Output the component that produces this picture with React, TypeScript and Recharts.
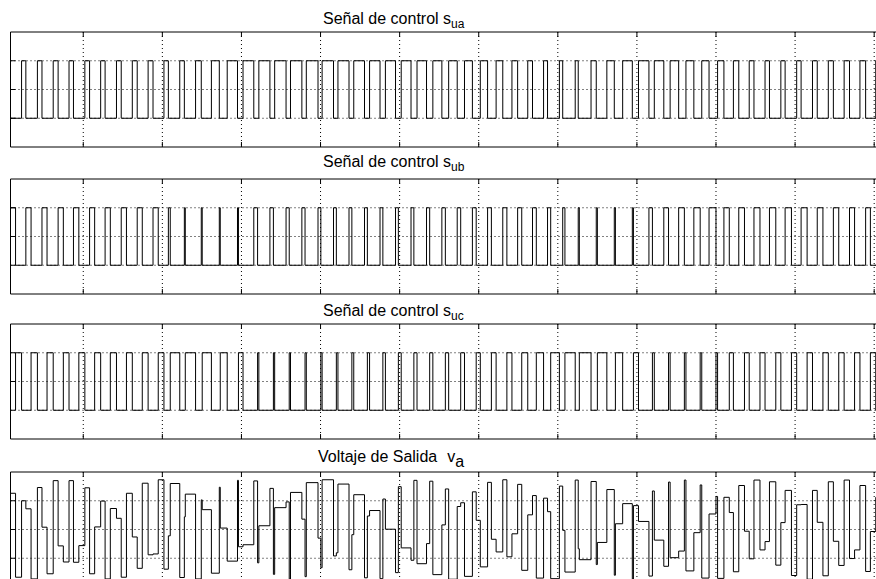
import React from 'react';
import { LineChart, Line, XAxis, YAxis, CartesianGrid } from 'recharts';

// one carrier period is a fifth of a grid division
const PERIOD = 0.2;
const FIRST_START = 0.02;
const X_DOMAIN: [number, number] = [0.08, 11.2];
const X_TICKS = [1, 2, 3, 4, 5, 6, 7, 8, 9, 10, 11];

const SW_DOMAIN: [number, number] = [-0.5, 1.5];
const SW_TICKS = [0, 0.5, 1];
const V_DOMAIN: [number, number] = [-2, 2];
const V_TICKS = [-1, 0, 1];

// share of each carrier period spent on input a, b, c (read from the pulse widths)
const dutyA = [
  0.29,
  0.27, 0.29, 0.31, 0.28, 0.3, 0.28, 0.3, 0.31, 0.31, 0.28,
  0.29, 0.36, 0.5, 0.65,
  0.68, 0.7, 0.72, 0.72, 0.74,
  0.72, 0.7, 0.68, 0.66, 0.64, 0.62,
  0.6, 0.57, 0.54, 0.5, 0.46, 0.42,
  0.36, 0.3, 0.25, 0.21,
  0.19, 0.33, 0.47, 0.61,
  0.66, 0.6, 0.54, 0.5, 0.46,
  0.4, 0.34, 0.3, 0.28, 0.27, 0.28, 0.3, 0.32, 0.34, 0.36, 0.38,
];
const dutyB = [
  0.33,
  0.33, 0.32, 0.33, 0.34, 0.32, 0.33, 0.33, 0.32, 0.33, 0.12,
  0.06, 0.06, 0.06, 0.06,
  0.24, 0.22, 0.2, 0.2, 0.18,
  0.18, 0.18, 0.18, 0.18, 0.18, 0.18,
  0.2, 0.22, 0.22, 0.24, 0.24, 0.26,
  0.26, 0.24, 0.2, 0.14,
  0.07, 0.07, 0.07, 0.07,
  0.22, 0.3, 0.36, 0.4, 0.44,
  0.34, 0.36, 0.38, 0.4, 0.4, 0.38, 0.36, 0.34, 0.32, 0.3, 0.28,
];
const dutyC = [
  0.38,
  0.4, 0.39, 0.36, 0.38, 0.38, 0.39, 0.37, 0.37, 0.36, 0.6,
  0.65, 0.58, 0.44, 0.29,
  0.08, 0.08, 0.08, 0.08, 0.08,
  0.1, 0.12, 0.14, 0.16, 0.18, 0.2,
  0.2, 0.21, 0.24, 0.26, 0.3, 0.32,
  0.38, 0.46, 0.55, 0.65,
  0.74, 0.6, 0.46, 0.32,
  0.12, 0.1, 0.1, 0.1, 0.1,
  0.26, 0.3, 0.32, 0.32, 0.33, 0.34, 0.34, 0.34, 0.34, 0.34, 0.34,
];

// input phase voltages seen on the output during each period
const vinA = [
  0.4, 1.0, 1.46, 1.7, 1.7, 1.45, 0.99, 0.39, -0.26, -0.88,
  -1.38, -1.67, -1.72, -1.52, -1.1, -0.53, 0.13, 0.76, 1.29, 1.63,
  1.73, 1.58, 1.21, 0.66, 0.01, -0.64, -1.19, -1.57, -1.73, -1.63,
  -1.3, -0.78, -0.15, 0.51, 1.09, 1.51, 1.72, 1.67, 1.39, 0.9,
  0.28, -0.37, -0.98, -1.44, -1.69, -1.7, -1.47, -1.02, -0.42, 0.24,
  0.86, 1.36, 1.66, 1.72, 1.53, 1.12,
];
const vinB = [
  1.26, 0.72, 0.08, -0.57, -1.14, -1.54, -1.72, -1.66, -1.35, -0.85,
  -0.22, 0.44, 1.03, 1.47, 1.71, 1.69, 1.43, 0.96, 0.36, -0.3,
  -0.92, -1.4, -1.68, -1.71, -1.5, -1.07, -0.49, 0.16, 0.8, 1.31,
  1.64, 1.73, 1.57, 1.18, 0.62, -0.03, -0.67, -1.22, -1.59, -1.73,
  -1.62, -1.28, -0.75, -0.11, 0.54, 1.12, 1.53, 1.72, 1.66, 1.36,
  0.87, 0.25, -0.41, -1.01, -1.46, -1.7,
];
const vinC = [
  -1.66, -1.72, -1.54, -1.13, -0.56, 0.09, 0.73, 1.26, 1.61, 1.73,
  1.6, 1.23, 0.69, 0.05, -0.6, -1.16, -1.56, -1.73, -1.64, -1.33,
  -0.81, -0.18, 0.47, 1.06, 1.49, 1.71, 1.68, 1.41, 0.93, 0.32,
  -0.34, -0.95, -1.42, -1.69, -1.71, -1.48, -1.05, -0.45, 0.2, 0.83,
  1.34, 1.65, 1.72, 1.55, 1.15, 0.59, -0.06, -0.71, -1.24, -1.6,
  -1.73, -1.61, -1.25, -0.71, -0.07, 0.58,
];

type Pt = { t: number; v: number };

// switching instants of one carrier period: a -> b -> c
const edgesOf = (i: number) => {
  const t0 = FIRST_START + i * PERIOD;
  const e1 = t0 + dutyA[i] * PERIOD;
  const e2 = e1 + dutyB[i] * PERIOD;
  const e3 = e2 + dutyC[i] * PERIOD;
  return [t0, e1, e2, e3];
};

const switchSignal = (phase: number): Pt[] => {
  const pts: Pt[] = [];
  dutyA.forEach((_, i) => {
    const e = edgesOf(i);
    const on = e[phase];
    const off = e[phase + 1];
    pts.push({ t: on, v: 0 }, { t: on, v: 1 }, { t: off, v: 1 }, { t: off, v: 0 });
  });
  return pts;
};

const outputVoltage = (): Pt[] => {
  const pts: Pt[] = [];
  dutyA.forEach((_, i) => {
    const [t0, e1, e2, e3] = edgesOf(i);
    pts.push(
      { t: t0, v: vinA[i] }, { t: e1, v: vinA[i] },
      { t: e1, v: vinB[i] }, { t: e2, v: vinB[i] },
      { t: e2, v: vinC[i] }, { t: e3, v: vinC[i] },
    );
  });
  return pts;
};

const FONT = '"Liberation Sans", Arial, Helvetica, sans-serif';
const PLOT_H = 113;
const PAD = 10;
const noLabel = () => '';

type PanelProps = {
  top: number;
  data: Pt[];
  yDomain: [number, number];
  yTicks: number[];
};

// axes are 1px thick so that recharts still draws them (box + inward ticks), labels left empty
const Panel = ({ top, data, yDomain, yTicks }: PanelProps) => (
  <div style={{ position: 'absolute', left: 0, top: top - PAD }}>
    <LineChart width={900} height={PLOT_H + 2 * PAD} data={data} margin={{ top: PAD - 1, right: 10, bottom: PAD - 1, left: 10.5 }}>
      <CartesianGrid xAxisId="bottom" yAxisId="left" stroke="#000" strokeDasharray="1 3"
        horizontalValues={yTicks} verticalValues={X_TICKS} />
      <XAxis xAxisId="bottom" dataKey="t" type="number" domain={X_DOMAIN} ticks={X_TICKS} allowDataOverflow
        tick={{ fontSize: 0 }} tickFormatter={noLabel} tickSize={5} mirror height={1} stroke="#000" />
      <XAxis xAxisId="top" orientation="top" dataKey="t" type="number" domain={X_DOMAIN} ticks={X_TICKS} allowDataOverflow
        tick={{ fontSize: 0 }} tickFormatter={noLabel} tickSize={5} mirror height={1} stroke="#000" />
      <YAxis yAxisId="left" type="number" domain={yDomain} ticks={yTicks} allowDataOverflow
        tick={{ fontSize: 0 }} tickFormatter={noLabel} tickSize={5} mirror width={1} stroke="#000" />
      <YAxis yAxisId="right" orientation="right" type="number" domain={yDomain} ticks={yTicks} allowDataOverflow
        tick={{ fontSize: 0 }} tickFormatter={noLabel} tickSize={5} mirror width={1} stroke="#000" />
      <Line xAxisId="bottom" yAxisId="left" dataKey="v" type="linear" dot={false} stroke="#000" strokeWidth={1}
        isAnimationActive={false} />
    </LineChart>
  </div>
);

export default function App() {
  const sua = switchSignal(0);
  const sub = switchSignal(1);
  const suc = switchSignal(2);
  const va = outputVoltage();

  return (
    <div style={{ position: 'absolute', left: 0, top: 0, width: 876, height: 579, overflow: 'hidden', background: '#fff' }}>
      <Panel top={32.5} data={sua} yDomain={SW_DOMAIN} yTicks={SW_TICKS} />
      <Panel top={179.5} data={sub} yDomain={SW_DOMAIN} yTicks={SW_TICKS} />
      <Panel top={324.5} data={suc} yDomain={SW_DOMAIN} yTicks={SW_TICKS} />
      <Panel top={472.5} data={va} yDomain={V_DOMAIN} yTicks={V_TICKS} />
      <svg width={876} height={579} style={{ position: 'absolute', left: 0, top: 0, pointerEvents: 'none' }}>
        <g fontFamily={FONT} fill="#000" fontSize={16}>
          <text x={323} y={24}>Señal de control s<tspan fontSize={12} dy={4}>ua</tspan></text>
          <text x={323} y={167}>Señal de control s<tspan fontSize={12} dy={4}>ub</tspan></text>
          <text x={323} y={316}>Señal de control s<tspan fontSize={12} dy={4}>uc</tspan></text>
          <text x={318} y={462}>Voltaje de Salida<tspan dx={10}>v</tspan><tspan dy={5}>a</tspan></text>
        </g>
      </svg>
    </div>
  );
}
